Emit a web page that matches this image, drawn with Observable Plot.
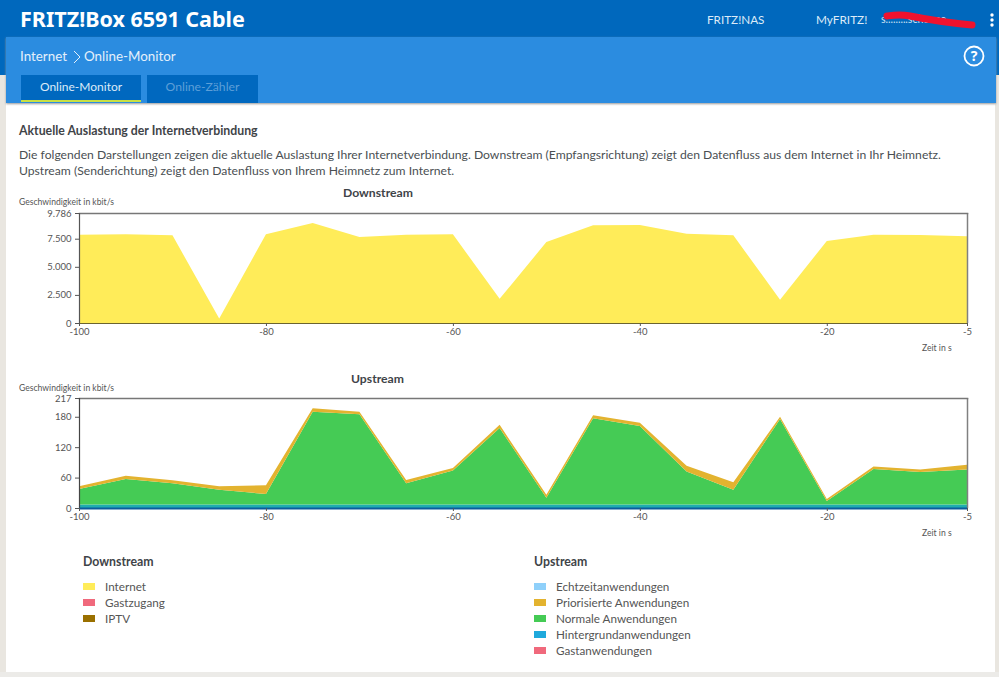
<!DOCTYPE html>
<html lang="de"><head><meta charset="utf-8">
<script src="https://cdn.jsdelivr.net/npm/d3@7"></script>
<script src="https://cdn.jsdelivr.net/npm/@observablehq/plot@0.6"></script>
<style>
html,body{margin:0;padding:0;width:999px;height:677px;overflow:hidden;background:#e9e6e0;font-family:Lato,sans-serif;color:#3f4448}
.abs{position:absolute;white-space:nowrap}
svg{overflow:visible}
.plotbox{position:absolute;left:0}
.sw{position:absolute;width:12px;height:7px}
.leg{position:absolute;font-size:11.7px;color:#555;white-space:nowrap;line-height:14px}
</style></head><body>
<div class="abs" style="left:6px;top:75px;width:989px;height:597px;background:#fff"></div>
<div class="abs" style="left:0;top:672px;width:999px;height:5px;background:#ecebe8"></div>
<div class="abs" style="left:0;top:0;width:999px;height:75px;background:#0068bd"></div>
<div class="abs" style="left:6px;top:37px;width:990px;height:66px;background:#2b8ce0;box-shadow:0 1px 2px #999"></div>
<div class="abs" style="left:20px;top:4px;font-size:21.5px;font-weight:700;color:#fff;font-family:'Noto Sans'">FRITZ!Box 6591 Cable</div>
<div class="abs" style="left:707px;top:12px;font-size:11.7px;color:#dcebf8">FRITZ!NAS</div>
<div class="abs" style="left:816px;top:12px;font-size:11.8px;color:#dcebf8">MyFRITZ!</div>
<div class="abs" style="left:881px;top:13px;font-size:10.5px;color:#cfe2f3">s.........schoene...</div>
<svg class="abs" style="left:880px;top:10px" width="100" height="22"><path d="M7 6 C14 5 20 4 30 6 S60 12 92 15" fill="none" stroke="#f0122e" stroke-width="7" stroke-linecap="round"/></svg>
<svg class="abs" style="left:988px;top:12px" width="8" height="16"><circle cx="4" cy="3" r="1.7" fill="#fff"/><circle cx="4" cy="8" r="1.7" fill="#fff"/><circle cx="4" cy="13" r="1.7" fill="#fff"/></svg>
<div class="abs" style="left:20px;top:48px;font-size:13.4px;color:#e4f0fb">Internet</div>
<svg class="abs" style="left:72px;top:50px" width="10" height="14"><path d="M2 1 L8 7 L2 13" fill="none" stroke="#e4f0fb" stroke-width="1"/></svg>
<div class="abs" style="left:84px;top:48px;font-size:13.4px;color:#e4f0fb">Online-Monitor</div>
<svg class="abs" style="left:962px;top:45px" width="24" height="24"><circle cx="12" cy="11" r="9.5" fill="none" stroke="#fff" stroke-width="1.8"/><text x="12" y="16" text-anchor="middle" font-size="14" font-weight="700" fill="#fff" font-family="Noto Sans">?</text></svg>
<div class="abs" style="left:21px;top:75px;width:120px;height:25px;background:#0068bf;border-bottom:2px solid #c8e045;color:#dcebf8;font-size:12px;line-height:24px;text-align:center">Online-Monitor</div>
<div class="abs" style="left:147px;top:75px;width:111px;height:28px;background:#0068bf;color:#5d9fd8;font-size:12.2px;line-height:24px;text-align:center">Online-Zähler</div>
<div class="abs" style="left:19px;top:123px;font-size:12.3px;font-weight:700">Aktuelle Auslastung der Internetverbindung</div>
<div class="abs" id="p1" style="left:19px;top:147px;font-size:12.17px;color:#4a4f53">Die folgenden Darstellungen zeigen die aktuelle Auslastung Ihrer Internetverbindung. Downstream (Empfangsrichtung) zeigt den Datenfluss aus dem Internet in Ihr Heimnetz.</div>
<div class="abs" style="left:19px;top:163px;font-size:12.17px;color:#4a4f53">Upstream (Senderichtung) zeigt den Datenfluss von Ihrem Heimnetz zum Internet.</div>
<div id="down" class="plotbox" style="top:180px"></div>
<div id="up" class="plotbox" style="top:365px"></div>
<div id="legend"></div>
<script>
const seconds = [-100,-95,-90,-85,-80,-75,-70,-65,-60,-55,-50,-45,-40,-35,-30,-25,-20,-15,-10,-5];
const xTicks = [-100,-80,-60,-40,-20,-5];
const internet = [7860,7890,7800,400,7890,8900,7650,7860,7890,2150,7200,8690,8720,7950,7800,2076,7295,7860,7830,7710];
const hintergrund = [7,7,7,7,7,7,7,7,7,7,7,7,7,7,7,7,7,7,7,7];
const normale = [30.5,50,41.7,29,20.6,183,177.8,42,67,151,13,170,155,65,29,168.6,7,70,64,69];
const priorisierte = [5.2,6.8,5.9,6.7,17.1,6.6,5.2,6,5,6,6,6,6,11.5,14.6,4.4,4,5,5,9.5];
const downTicks = [0,2500,5000,7500,9786];
const upTicks = [0,60,120,180,217];
const downLegend = ["Internet","Gastzugang","IPTV"];
const downColors = ["#ffec59","#f0697c","#9a7000"];
const upLegend = ["Echtzeitanwendungen","Priorisierte Anwendungen","Normale Anwendungen","Hintergrundanwendungen","Gastanwendungen"];
const upColors = ["#8fd0fa","#e3b32f","#45cb55","#1fa9dc","#f0697c"];
const de = d => d3.format(",")(d).replace(/,/g,".");
const common = (ticks, max) => ({
  width: 999, height: 165, marginLeft: 79, marginRight: 32, marginTop: 33, marginBottom: 22,
  style: {fontFamily: "Lato,sans-serif", fontSize: "9.5px", color: "#555", background: "transparent"},
  x: {domain: [-100,-5], label: null},
  y: {domain: [0,max], label: null}
});
const frameMarks = () => [
  Plot.ruleX([-5], {stroke:"#808080", strokeWidth:1.5}),
  Plot.frame({anchor:"top", stroke:"#777", strokeWidth:1.5, strokeOpacity:1}),
];
const axes = (yt) => [
  Plot.axisX({ticks:xTicks, tickFormat:d=>String(d), tickSize:3, tickPadding:1.5, label:null}),
  Plot.axisY({ticks:yt, tickFormat:de, tickSize:4, tickPadding:4, label:null})
];
const down = Plot.plot({...common(downTicks,9786), marks:[
  Plot.areaY(seconds.map((s,i)=>({s,v:internet[i]})), {x:"s", y:"v", fill:downColors[0], curve:"linear"}),
  ...frameMarks(),
  Plot.ruleX([-100], {stroke:"#555", strokeWidth:1.2}),
  Plot.ruleY([0], {stroke:"#6b6430", strokeWidth:1.2}),
  ...axes(downTicks)
]});
document.getElementById("down").append(down);
const layers = [
  ["Hintergrundanwendungen", hintergrund, "#1fadb0"],
  ["Normale Anwendungen", normale, upColors[2]],
  ["Priorisierte Anwendungen", priorisierte, upColors[1]]
];
const upRows = layers.flatMap(([name,vals,color]) => seconds.map((s,i)=>({s,v:vals[i],name,color})));
const up = Plot.plot({...common(upTicks,217), marks:[
  Plot.areaY(upRows, Plot.stackY({x:"s", y:"v", z:"name", fill:"color", order:layers.map(l=>l[0]), curve:"linear"})),
  ...frameMarks(),
  Plot.ruleX([-100], {stroke:"#444", strokeWidth:1.2}),
  Plot.ruleY([0], {stroke:"#0b5c9c", strokeWidth:1.8}),
  ...axes(upTicks)
]});
document.getElementById("up").append(up);
function t(x,y,s,css){const d=document.createElement("div");d.className="abs";d.style.cssText+=`left:${x}px;top:${y}px;`+css;d.textContent=s;document.body.append(d);return d;}
t(19,197,"Geschwindigkeit in kbit/s","font-size:8.6px;color:#555");
t(19,383,"Geschwindigkeit in kbit/s","font-size:8.6px;color:#555");
t(343,185,"Downstream","font-size:12.2px;font-weight:700");
t(351,371,"Upstream","font-size:12.2px;font-weight:700");
t(922,343,"Zeit in s","font-size:8.6px;color:#555");
t(922,528,"Zeit in s","font-size:8.6px;color:#555");
t(83,554,"Downstream","font-size:12.3px;font-weight:700");
t(534,554,"Upstream","font-size:12.3px;font-weight:700");
const L=document.getElementById("legend");
function leg(x,names,cols){names.forEach((n,i)=>{const y=579+i*16;
 const s=document.createElement("div");s.className="sw";s.style.cssText=`left:${x}px;top:${y+4}px;background:${cols[i]}`;L.append(s);
 const d=document.createElement("div");d.className="leg";d.style.cssText=`left:${x+22}px;top:${y}px`;d.textContent=n;L.append(d);});}
leg(83,downLegend,downColors);
leg(534,upLegend,upColors);
</script>
</body></html>
